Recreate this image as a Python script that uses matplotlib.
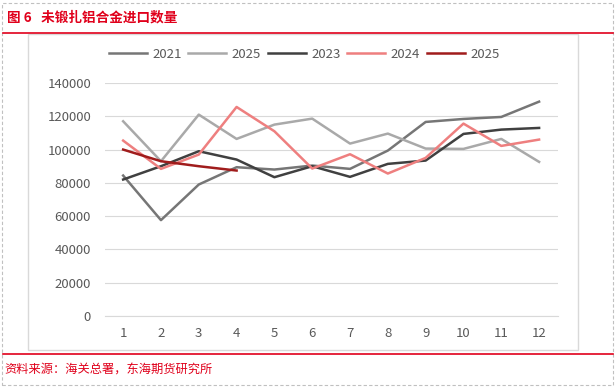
import matplotlib.pyplot as plt
from matplotlib.patches import Rectangle
from matplotlib.lines import Line2D

plt.rcParams['font.family'] = ['Noto Sans CJK SC', 'DejaVu Sans']

months = list(range(1, 13))
y2021 = [84400, 57600, 79000, 89400, 88000, 90400, 88400, 99400, 116600, 118400, 119600, 128800]
y2025_grey = [117000, 93000, 121000, 106400, 115000, 118600, 103600, 109600, 100600, 100400, 106400, 92600]
y2023 = [82000, 90000, 99000, 94000, 83400, 90000, 83600, 91400, 93400, 109400, 112000, 113000]
y2024 = [105400, 88400, 97000, 125600, 111000, 88600, 97200, 85600, 95000, 115600, 102200, 106000]
y2025 = [100000, 93000, 90000, 87400]

series = [
    ("2021", y2021, "#767676"),
    ("2025", y2025_grey, "#a9a9a9"),
    ("2023", y2023, "#404040"),
    ("2024", y2024, "#ee7f7f"),
    ("2025", y2025, "#a01c1c"),
]

red = "#e0001b"
W, H = 616, 387
fig = plt.figure(figsize=(W / 100, H / 100), dpi=100)

# outer dashed border + red rules + inner chart box
fig.patches.append(Rectangle((2 / W, 2 / H), 611 / W, 382 / H, transform=fig.transFigure,
                             fill=False, ec="#c0c0c0", lw=0.8, ls=(0, (3, 2))))
fig.add_artist(Line2D([3 / W, 613 / W], [1 - 32.5 / H] * 2, color=red, lw=1.2))
fig.add_artist(Line2D([3 / W, 613 / W], [1 - 354 / H] * 2, color=red, lw=1.2))
fig.patches.append(Rectangle((28 / W, 1 - 350 / H), 550 / W, 316 / H, transform=fig.transFigure,
                             fill=False, ec="#d9d9d9", lw=1.0))

fig.text(7 / W, 1 - 17 / H, "图 6   未锻扎铝合金进口数量", color=red, fontsize=9.8,
         fontweight="bold", va="center", ha="left")
fig.text(4 / W, 1 - 370 / H, "资料来源：海关总署，东海期货研究所", color=red, fontsize=8.8,
         va="center", ha="left")

ax = fig.add_axes([105 / W, 1 - 316 / H, 453 / W, 233 / H])
for name, vals, col in series:
    ax.plot(months[:len(vals)], vals, color=col, lw=1.8, label=name)

ax.set_xlim(0.52, 12.5)
ax.set_ylim(0, 140000)
ax.set_xticks(months)
ax.set_yticks(range(0, 140001, 20000))
ax.grid(axis="y", color="#d9d9d9", lw=0.8)
ax.set_axisbelow(True)
for s in ax.spines.values():
    s.set_visible(False)
ax.spines["bottom"].set_visible(True)
ax.spines["bottom"].set_color("#d9d9d9")
ax.tick_params(length=0, labelcolor="#595959", labelsize=9.5)
ax.tick_params(axis="x", pad=8)
ax.tick_params(axis="y", pad=10)

ax.legend(loc="center", bbox_to_anchor=(304 / W, 1 - 54 / H), bbox_transform=fig.transFigure,
          ncol=5, frameon=False, fontsize=9.5, handlelength=2.9, columnspacing=0.5,
          handletextpad=0.4, labelcolor="#595959")

fig.savefig("out.png", dpi=100)
